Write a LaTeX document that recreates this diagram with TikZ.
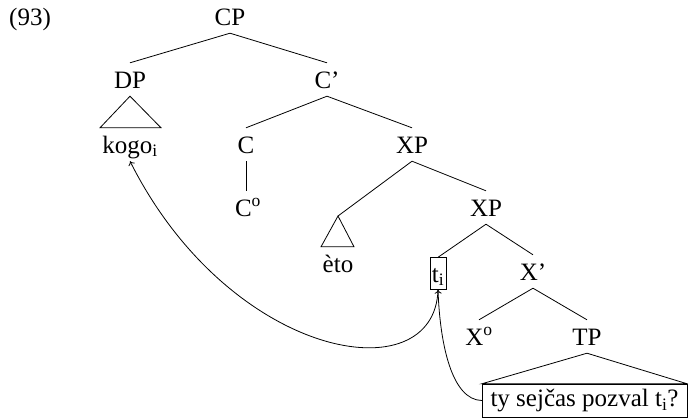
\documentclass[tikz,border=0pt]{standalone}
\usepackage{fontspec}
\setmainfont{Liberation Serif}
\usetikzlibrary{calc,arrows.meta}
\begin{document}
\begin{tikzpicture}[x=1pt,y=-1pt,
  every node/.style={font=\fontsize{25}{30}\selectfont},
  lab/.style={anchor=base,inner sep=0pt,text height=25pt,text depth=8pt},
  tbox/.style={draw,anchor=base,inner xsep=2pt,inner ysep=2.5pt,text height=22pt,text depth=5pt},
  sbox/.style={draw,inner sep=0pt,minimum width=205pt,minimum height=33pt,text height=18pt,text depth=6pt},
  br/.style={line width=0.8pt},
  mv/.style={line width=0.8pt,-{To[length=4pt,width=7pt]}}]
\useasboundingbox (0,0) rectangle (688,418);
\node[anchor=base,inner sep=0pt] (ex) at (30,25) {(93)};
\node[lab] (cp) at (230,25) {CP};
\node[lab] (dp) at (130,88) {DP};
\node[lab] (cbar) at (327,88) {C’};
\node[lab] (kogo) at (130,153) {kogo\textsubscript{i}};
\node[lab] (c) at (246,153) {C};
\node[lab] (xp1) at (412,153) {XP};
\node[lab] (c0) at (248,216) {C\textsuperscript{o}};
\node[lab] (xp2) at (486,216) {XP};
\node[lab] (eto) at (338,272) {èto};
\node[tbox] (ti) at (438,282) {t\textsubscript{i}};
\node[lab] (xbar) at (533,280) {X’};
\node[lab] (x0) at (479,345) {X\textsuperscript{o}};
\node[lab] (tp) at (587,345) {TP};
\node[sbox] (sent) at (584.5,400.5) {ty sejčas pozval t\textsubscript{i}?};
\coordinate (apx) at (338,216);
% branches
\draw[br] (cp.south) -- (dp.north);
\draw[br] (cp.south) -- (cbar.north);
\draw[br] (cbar.south) -- (c.north);
\draw[br] (cbar.south) -- (xp1.north);
\draw[br] (c.south) -- (c0.north -| c.south);
\draw[br] (xp1.south) -- (apx);
\draw[br] (xp1.south) -- (xp2.north);
\draw[br] (xp2.south) -- (ti.north);
\draw[br] (xp2.south) -- (xbar.north);
\draw[br] (xbar.south) -- (x0.north);
\draw[br] (xbar.south) -- (tp.north);
% triangles
\draw[br] (dp.south) -- ($(kogo.north)+(-30,0)$) -- ($(kogo.north)+(31,0)$) -- cycle;
\draw[br] (apx) -- ($(eto.north)+(-17,0)$) -- ($(eto.north)+(16,0)$) -- cycle;
\draw[br] (tp.south) -- (sent.north west) -- (sent.north east) -- cycle;
% movement arrows
\draw[mv] (ti.south) .. controls (435,395) and (230,360) .. (kogo.south);
\draw[mv] (sent.west) .. controls (452,400) and (440,345) .. (ti.south);
\end{tikzpicture}
\end{document}
